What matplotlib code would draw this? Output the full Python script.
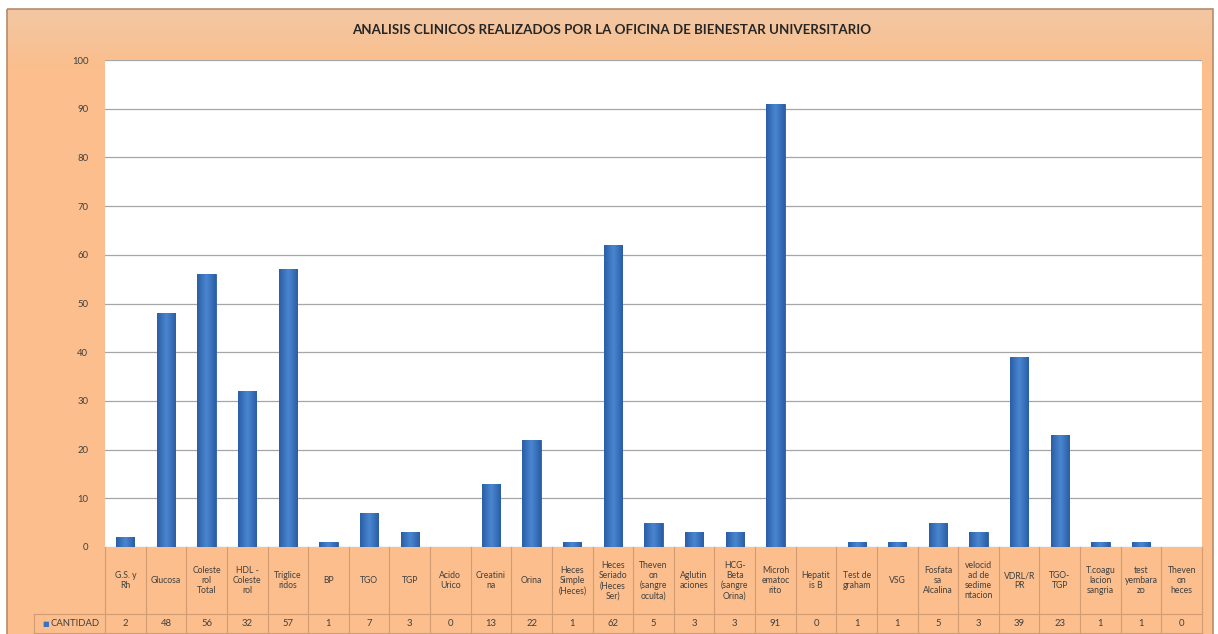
import numpy as np
import matplotlib
matplotlib.use("Agg")
import matplotlib.pyplot as plt
from matplotlib import transforms
from matplotlib.patches import Rectangle
from matplotlib.colors import LinearSegmentedColormap

# datos del grafico
categorias = ["G.S. y\nRh", "Glucosa", "Coleste\nrol\nTotal", "HDL -\nColeste\nrol",
              "Triglice\nridos", "BP", "TGO", "TGP", "Acido\nUrico", "Creatini\nna",
              "Orina", "Heces\nSimple\n(Heces)", "Heces\nSeriado\n(Heces\nSer)",
              "Theven\non\n(sangre\noculta)", "Aglutin\naciones", "HCG-\nBeta\n(sangre\nOrina)",
              "Microh\nematoc\nrito", "Hepatit\nis B", "Test de\ngraham", "VSG",
              "Fosfata\nsa\nAlcalina", "velocid\nad de\nsedime\nntacion", "VDRL/R\nPR",
              "TGO-\nTGP", "T.coagu\nlacion\nsangria", "test\nyembara\nzo", "Theven\non\nheces"]
cantidad = [2, 48, 56, 32, 57, 1, 7, 3, 0, 13, 22, 1, 62, 5, 3, 3, 91, 0, 1, 1, 5, 3, 39, 23, 1, 1, 0]
serie = "CANTIDAD"
titulo = "ANALISIS CLINICOS REALIZADOS POR LA OFICINA DE BIENESTAR UNIVERSITARIO"
yticks = list(range(0, 101, 10))

W, H = 1218, 634
fig = plt.figure(figsize=(W / 100, H / 100), dpi=100, facecolor="white")

# marco naranja con degradado arriba
bg = fig.add_axes([0, 0, 1, 1], zorder=-10)
bg.set_xlim(0, W)
bg.set_ylim(H, 0)
bg.axis("off")
naranja = np.array([0.984, 0.745, 0.549])
claro = np.array([0.95, 0.78, 0.64])
t = np.linspace(0, 1, 100)[:, None, None]
img = claro + (naranja - claro) * t
bg.add_patch(Rectangle((7, 9), 1206, 640, facecolor="#FBBE8C", edgecolor="none", zorder=1))
bg.imshow(img, extent=(7, 1213, 70, 9), aspect="auto", zorder=2)
bg.add_patch(Rectangle((7, 9), 1206, 640, facecolor="none", edgecolor="#B48C6A", lw=1.2, zorder=5))
bg.text(612, 30, titulo, ha="center", va="center", fontsize=9.6, fontweight="bold",
        family=["Lato", "DejaVu Sans"], color="#262626", zorder=6)

ax = fig.add_axes([105 / W, 87 / H, 1097 / W, 487 / H])
ax.set_facecolor("white")
x = np.arange(len(categorias))
barras = ax.bar(x, cantidad, width=0.45, color="#3873C0", edgecolor="#2A5D9F",
                linewidth=0.6, zorder=3)

# degradado horizontal en cada barra (estilo Excel)
cmap = LinearSegmentedColormap.from_list("barra", ["#2A5EA6", "#4A86D0", "#2A5EA6"])
ax.set_xlim(-0.5, len(categorias) - 0.5)
ax.set_ylim(0, 100)
for b in barras:
    if b.get_height() <= 0:
        continue
    g = ax.imshow(np.linspace(0, 1, 64)[None, :], cmap=cmap, aspect="auto", zorder=4,
                  extent=(b.get_x(), b.get_x() + b.get_width(), 0, b.get_height()))
    g.set_clip_path(b)
ax.set_xlim(-0.5, len(categorias) - 0.5)
ax.set_ylim(0, 100)

ax.set_yticks(yticks)
ax.set_yticklabels([str(t) for t in yticks], fontsize=6.8, color="#404040", family="Lato")
ax.tick_params(axis="y", length=0, pad=12)
ax.set_xticks([])
ax.grid(axis="y", color="#A6A6A6", linewidth=0.9, zorder=0)
for s in ax.spines.values():
    s.set_visible(False)

# tabla de datos debajo del grafico
trans = transforms.blended_transform_factory(ax.transData, ax.transAxes)
linea = "#D29B72"
y_fila = -0.138   # linea entre etiquetas y valores
y_fin = -0.177
for i in range(len(categorias) + 1):
    ax.plot([i - 0.5, i - 0.5], [0, y_fin], transform=trans, color=linea, lw=0.8, clip_on=False)
for yy in (y_fila, y_fin):
    ax.plot([-2.25, len(categorias) - 0.5], [yy, yy], transform=trans, color=linea, lw=0.8,
            clip_on=False)
ax.plot([-2.25, -2.25], [y_fila, y_fin], transform=trans, color=linea, lw=0.8, clip_on=False)
for i, (c, v) in enumerate(zip(categorias, cantidad)):
    ax.text(i, y_fila / 2, c, transform=trans, ha="center", va="center", fontsize=6.2,
            color="#404040", family="Lato", linespacing=1.15)
    ax.text(i, (y_fila + y_fin) / 2, str(v), transform=trans, ha="center", va="center",
            fontsize=6.8, color="#404040", family="Lato")
ax.text(-2.05, (y_fila + y_fin) / 2, "\u25A0", transform=trans, ha="left", va="center",
        fontsize=5, color="#3873C0")
ax.text(-1.85, (y_fila + y_fin) / 2, serie, transform=trans, ha="left", va="center",
        fontsize=6.8, color="#404040", family="Lato")

fig.savefig("out.png", dpi=100, facecolor="white")
plt.close()
